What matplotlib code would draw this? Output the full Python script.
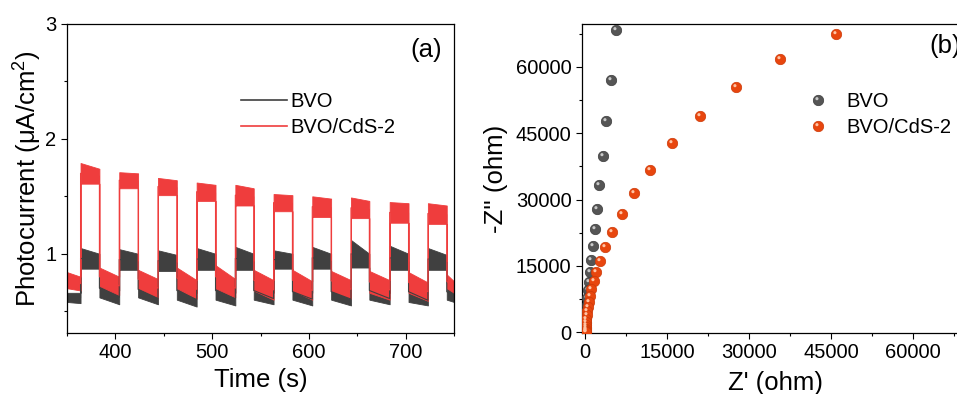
import matplotlib
matplotlib.use("Agg")
import matplotlib.pyplot as plt
import numpy as np
from matplotlib.lines import Line2D
from matplotlib.markers import MarkerStyle
from matplotlib.path import Path
from matplotlib.ticker import MultipleLocator
from matplotlib.legend_handler import HandlerTuple

plt.rcParams['font.family'] = ['Liberation Sans', 'DejaVu Sans']
plt.rcParams['mathtext.fontset'] = 'custom'
plt.rcParams['mathtext.rm'] = 'Liberation Sans'
plt.rcParams['mathtext.it'] = 'Liberation Sans:italic'

# ---- (a) photocurrent: light on/off times (s) ----
on_t = [364, 404, 444, 484, 524, 563.5, 603.5, 643.5, 683.5, 723]
off_t = [383.5, 423.5, 463.5, 503.5, 543, 583, 623, 662.5, 703, 742.5]

# BVO/CdS-2 band (upper / lower edge of the noisy trace)
red_on_hi = [1.79, 1.71, 1.66, 1.62, 1.60, 1.52, 1.50, 1.49, 1.45, 1.44]
red_on_hi_end = [1.74, 1.70, 1.64, 1.60, 1.57, 1.51, 1.48, 1.46, 1.44, 1.42]
red_on_lo = [1.61, 1.57, 1.51, 1.46, 1.42, 1.37, 1.32, 1.31, 1.27, 1.26]
# dark periods: before first pulse + after each pulse
red_off_hi_a = [0.84, 0.88, 0.86, 0.88, 0.90, 0.86, 0.86, 0.85, 0.85, 0.84, 0.82]
red_off_hi_b = [0.80, 0.80, 0.78, 0.77, 0.78, 0.77, 0.76, 0.77, 0.77, 0.75, 0.76]
red_off_lo_a = [0.70, 0.72, 0.70, 0.70, 0.70, 0.68, 0.68, 0.68, 0.66, 0.66, 0.70]
red_off_lo_b = [0.68, 0.64, 0.62, 0.61, 0.62, 0.60, 0.60, 0.61, 0.60, 0.59, 0.66]

# BVO band
grey_on_hi = [1.05, 1.04, 1.03, 1.05, 1.06, 1.03, 1.06, 1.12, 1.07, 1.05]
grey_on_hi_end = [1.00, 1.00, 0.99, 1.00, 1.00, 1.00, 1.00, 1.00, 1.00, 0.99]
grey_on_lo = [0.87, 0.86, 0.85, 0.86, 0.86, 0.87, 0.87, 0.88, 0.86, 0.86]
grey_off_hi_a = [0.66, 0.78, 0.76, 0.76, 0.76, 0.76, 0.74, 0.74, 0.76, 0.76, 0.74]
grey_off_hi_b = [0.66, 0.68, 0.66, 0.66, 0.66, 0.66, 0.66, 0.66, 0.66, 0.64, 0.66]
grey_off_lo_a = [0.58, 0.62, 0.62, 0.60, 0.60, 0.60, 0.60, 0.60, 0.60, 0.58, 0.60]
grey_off_lo_b = [0.57, 0.56, 0.56, 0.54, 0.55, 0.56, 0.55, 0.55, 0.56, 0.55, 0.58]

# ---- (b) Nyquist plot ----
bvo_zre = [5660, 4690, 3840, 3230, 2620, 2190, 1770, 1460, 1160, 970, 790,
           610, 430, 300, 240, 180, 130, 100, 80]
bvo_zim = [68300, 57100, 47700, 39900, 33350, 27850, 23300, 19500, 16300,
           13700, 11400, 9600, 7800, 6200, 4700, 3200, 2000, 1000, 300]
cds_zre = [45800, 35600, 27600, 21000, 15900, 11900, 8900, 6700, 5000, 3650,
           2740, 2070, 1580, 1160, 850, 650, 500, 400, 330, 270, 230, 200,
           180, 160, 150, 140, 130, 120]
cds_zim = [67500, 61700, 55400, 48900, 42700, 36800, 31500, 26800, 22700,
           19200, 16200, 13600, 11600, 9850, 8300, 6900, 5700, 4700, 3800,
           3000, 2300, 1700, 1200, 800, 500, 300, 150, 50]

grey_c = '#404040'
red_c = '#ef3d3d'


def band(hi_on, hi_on_end, lo_on, hi_a, hi_b, lo_a, lo_b):
    t = [350]
    hi = [hi_a[0]]
    lo = [lo_a[0]]
    for i in range(len(on_t)):
        t += [on_t[i], on_t[i], off_t[i], off_t[i]]
        hi += [hi_b[i], hi_on[i], hi_on_end[i], hi_a[i + 1]]
        lo += [lo_b[i], lo_on[i], lo_on[i], lo_a[i + 1]]
        t.append(on_t[i + 1] if i + 1 < len(on_t) else 750)
        hi.append(hi_b[i + 1])
        lo.append(lo_b[i + 1])
    return np.array(t), np.array(hi), np.array(lo)


fig = plt.figure(figsize=(9.57, 3.94), dpi=100)
ax1 = fig.add_axes([67 / 957, 61 / 394, 387 / 957, 309 / 394])
ax2 = fig.add_axes([582 / 957, 61 / 394, 386 / 957, 309 / 394])

t, hi, lo = band(grey_on_hi, grey_on_hi_end, grey_on_lo,
                 grey_off_hi_a, grey_off_hi_b, grey_off_lo_a, grey_off_lo_b)
ax1.fill_between(t, lo, hi, color=grey_c, lw=0.6, edgecolor=grey_c)
ax1.plot(t, (hi + lo) / 2, color=grey_c, lw=0.8)

t, hi, lo = band(red_on_hi, red_on_hi_end, red_on_lo,
                 red_off_hi_a, red_off_hi_b, red_off_lo_a, red_off_lo_b)
ax1.fill_between(t, lo, hi, color=red_c, lw=0.6, edgecolor=red_c)
ax1.plot(t, (hi + lo) / 2, color=red_c, lw=0.8)

ax1.set_xlim(350, 750)
ax1.set_ylim(0.31, 3)
ax1.xaxis.set_major_locator(MultipleLocator(100))
ax1.xaxis.set_minor_locator(MultipleLocator(50))
ax1.yaxis.set_major_locator(MultipleLocator(1))
ax1.yaxis.set_minor_locator(MultipleLocator(0.5))
ax1.set_xlabel('Time (s)', fontsize=18.5, labelpad=4)
ax1.set_ylabel('Photocurrent (μA/cm$^2$)', fontsize=18.5, labelpad=1)
ax1.text(0.97, 0.915, '(a)', transform=ax1.transAxes, fontsize=18.5,
         ha='right', va='center')
h1 = [Line2D([], [], color=grey_c, lw=1.2), Line2D([], [], color=red_c, lw=1.2)]
ax1.legend(h1, ['BVO', 'BVO/CdS-2'], loc='upper left', frameon=False,
           fontsize=14.5, bbox_to_anchor=(0.45, 0.78), borderpad=0,
           borderaxespad=0, handlelength=2.3, handletextpad=0.15,
           labelspacing=0.35)


# sphere-looking markers: base disc + small off-centre highlight
hl_path = Path.make_compound_path(
    Path([[-1, -1], [1, 1]], [Path.MOVETO, Path.MOVETO]),
    Path.circle(center=(-0.3, 0.35), radius=0.3))
hl_marker = MarkerStyle(hl_path)
ms = 7.5

ax2.plot(bvo_zre, bvo_zim, 'o', ms=ms, color='#555555', mec='#3c3c3c',
         mew=0.5, zorder=3)
ax2.plot(bvo_zre, bvo_zim, ls='none', marker=hl_marker, ms=ms,
         color='#c9c9c9', mew=0, zorder=3.1)
ax2.plot(cds_zre, cds_zim, 'o', ms=ms, color='#e8460e', mec='#cc3a08',
         mew=0.5, zorder=4)
ax2.plot(cds_zre, cds_zim, ls='none', marker=hl_marker, ms=ms,
         color='#ffc4a4', mew=0, zorder=4.1)

ax2.set_xlim(-550, 70000)
ax2.set_ylim(-170, 69700)
ax2.xaxis.set_major_locator(MultipleLocator(15000))
ax2.xaxis.set_minor_locator(MultipleLocator(7500))
ax2.yaxis.set_major_locator(MultipleLocator(15000))
ax2.yaxis.set_minor_locator(MultipleLocator(7500))
ax2.set_xlabel("Z' (ohm)", fontsize=18.5, labelpad=6)
ax2.set_ylabel("-Z'' (ohm)", fontsize=18.5, labelpad=6)
ax2.text(0.9, 0.93, '(b)', transform=ax2.transAxes, fontsize=18.5,
         ha='left', va='center')
h2 = [(Line2D([], [], ls='none', marker='o', ms=ms, color='#555555',
              mec='#3c3c3c', mew=0.5),
       Line2D([], [], ls='none', marker=hl_marker, ms=ms, color='#c9c9c9',
              mew=0)),
      (Line2D([], [], ls='none', marker='o', ms=ms, color='#e8460e',
              mec='#cc3a08', mew=0.5),
       Line2D([], [], ls='none', marker=hl_marker, ms=ms, color='#ffc4a4',
              mew=0))]
ax2.legend(h2, ['BVO', 'BVO/CdS-2'], loc='upper left', frameon=False,
           fontsize=14.5, bbox_to_anchor=(0.585, 0.78), borderpad=0,
           borderaxespad=0, handlelength=1.0, handletextpad=0.9,
           labelspacing=0.35,
           handler_map={tuple: HandlerTuple(ndivide=1, pad=0)})

for ax in (ax1, ax2):
    for s in ax.spines.values():
        s.set_linewidth(0.9)
    ax.tick_params(which='major', direction='out', length=4.5, width=0.8,
                   labelsize=14.5, pad=3, top=False, right=False)
    ax.tick_params(which='minor', direction='out', length=2.5, width=0.8,
                   top=False, right=False)

fig.savefig('out.png', dpi=100)
